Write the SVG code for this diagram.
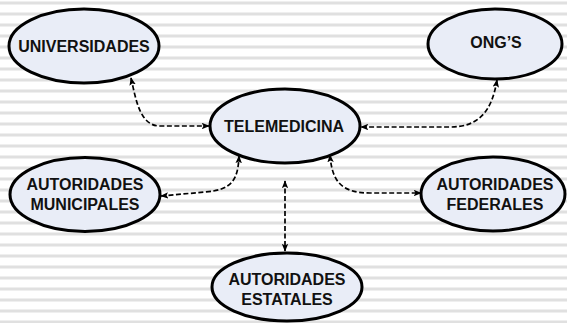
<svg xmlns="http://www.w3.org/2000/svg" width="567" height="323" viewBox="0 0 567 323">
<defs>
<pattern id="stripes" x="0" y="0" width="567" height="11" patternUnits="userSpaceOnUse">
<rect x="0" y="1.5" width="567" height="3" fill="#e0e0e0"/>
</pattern>
<marker id="ah" viewBox="0 0 10 8" refX="9" refY="4" markerWidth="8" markerHeight="6.5" markerUnits="userSpaceOnUse" orient="auto-start-reverse">
<path d="M0,0 L10,4 L0,8 L2,4 z" fill="#000"/>
</marker>
<style>
.node ellipse{fill:#e9edf7;stroke:#000;stroke-width:3}
.node text{font-family:"Liberation Sans",Arial,sans-serif;font-weight:bold;font-size:16px;text-anchor:middle;fill:#111}
#connectors path{fill:none;stroke:#000;stroke-width:1.7;stroke-dasharray:5 2.5;marker-start:url(#ah);marker-end:url(#ah)}
</style>
</defs>
<rect width="567" height="323" fill="#fff"/>
<rect width="567" height="323" fill="url(#stripes)"/>
<g id="connectors">
<path d="M131,78 C136,100 140,126 160,126 L209,126"/>
<path d="M497,80 C492,110 480,127 450,127 L361,127"/>
<path d="M161,196 L205,192 C232,190 238,180 239,156"/>
<path d="M330,155 C332,180 340,193 370,193 L421,193"/>
<path d="M285,181 L285,251"/>
</g>
<g id="universidades" class="node">
<ellipse cx="84" cy="46" rx="75" ry="37"/>
<text x="84" y="52">UNIVERSIDADES</text>
</g>
<g id="ongs" class="node">
<ellipse cx="495" cy="44" rx="67" ry="35"/>
<text x="496" y="48">ONG’S</text>
</g>
<g id="telemedicina" class="node">
<ellipse cx="285" cy="126" rx="75" ry="37"/>
<text x="284" y="132">TELEMEDICINA</text>
</g>
<g id="municipales" class="node">
<ellipse cx="85" cy="194.5" rx="75" ry="37"/>
<text x="85" y="190">AUTORIDADES</text>
<text x="85" y="210">MUNICIPALES</text>
</g>
<g id="federales" class="node">
<ellipse cx="493" cy="194" rx="72" ry="37"/>
<text x="495" y="190">AUTORIDADES</text>
<text x="495" y="210">FEDERALES</text>
</g>
<g id="estatales" class="node">
<ellipse cx="287" cy="287" rx="75" ry="34"/>
<text x="287" y="285">AUTORIDADES</text>
<text x="287" y="305">ESTATALES</text>
</g>
</svg>
